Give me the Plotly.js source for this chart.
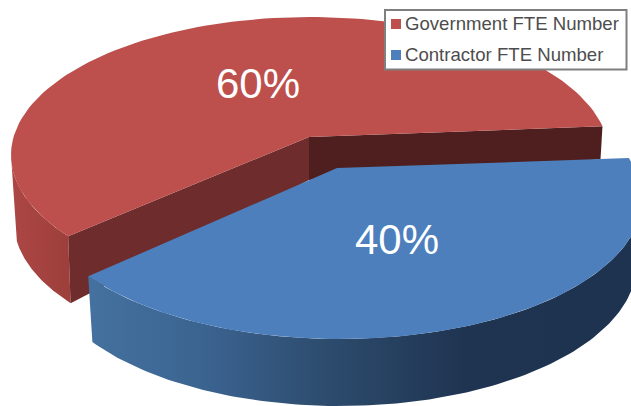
<!DOCTYPE html>
<html>
<head>
<meta charset="utf-8">
<script src="https://cdn.plot.ly/plotly-3.0.1.min.js"></script>
<style>html,body{margin:0;padding:0;background:#fff}#chart{width:631px;height:406px}</style>
</head>
<body>
<div id="chart"></div>
<script>
// Data
const sliceLabels = ["Government FTE Number", "Contractor FTE Number"];
const sliceValues = [60, 40];
const sliceColors = ["#BD504D", "#4D7FBC"];

// 3-D projection of the pie (drawn with scatter fills on hidden pixel-scaled axes)
const W = 631, H = 406;
const total = sliceValues.reduce((a, b) => a + b, 0);
const startAngle = 4.3;
const warp = t => t + 1.5 + 8.5 * Math.cos(t * Math.PI / 180);
const redGeom = {vx: 309, vy: 137, top: {cx: 310, cy: 155, a: 299, b: 138}, bot: {cx: 310, cy: 222, a: 296, b: 138}};
const blueGeom = {vx: 337, vy: 168, top: {cx: 340, cy: 199, a: 302, b: 140}, bot: {cx: 340, cy: 263, a: 297, b: 143}};
const pt = (e, deg) => [e.cx + e.a * Math.cos(deg * Math.PI / 180), e.cy - e.b * Math.sin(deg * Math.PI / 180)];
const arc = (e, d0, d1, n = 120) => {
  const out = [];
  for (let i = 0; i <= n; i++) out.push(pt(e, d0 + (d1 - d0) * i / n));
  return out;
};
const poly = (pts, fill, extra) => Object.assign({
  type: "scatter", mode: "lines", x: pts.map(p => p[0]), y: pts.map(p => p[1]),
  fill: "toself", fillcolor: fill, line: {width: 0, color: fill},
  hoverinfo: "skip", showlegend: false
}, extra || {});
const grad = (stops, x0, x1) => ({fillgradient: {type: "horizontal", colorscale: stops, start: x0, stop: x1}});

const redEnd = startAngle + sliceValues[0] / total * 360;
const blueEnd = redEnd + sliceValues[1] / total * 360;
const pR0 = warp(startAngle) - 2.3, pR1 = warp(redEnd) + 0.7;
const pB0 = warp(redEnd) - 1.8, pB1 = warp(blueEnd) + 2.7;

const rTop = redGeom.top, rBot = redGeom.bot, bTop = blueGeom.top, bBot = blueGeom.bot;
const rCornerR = pt(rTop, pR0), rCornerL = pt(rTop, pR1), rBotL = pt(rBot, pR1);
const rVertex = [redGeom.vx, redGeom.vy], rVertexB = [redGeom.vx, redGeom.vy + 43];
const rCornerRB = [rCornerR[0] - 2, rCornerR[1] + 33];

const traces = [
  // red outer wall
  poly(arc(rTop, 180, pR1).concat(arc(rBot, pR1, 188)), "#A5423F",
       grad([[0, "#AC4744"], [1, "#9C3E3B"]], 11, 75)),
  // red inner walls
  poly([rVertex, rCornerR, rCornerRB, rVertexB], "#4E1F1E"),
  poly([rVertex, rCornerL, rBotL, rVertexB], "#6F2C2C"),
  // red top
  poly([rVertex].concat(arc(rTop, pR0, pR1)), sliceColors[0]),
  // blue outer wall
  poly(arc(bTop, pB0, 372).concat(arc(bBot, 372, pB0)), "#2C4A6B",
       grad([[0, "#44719F"], [0.25, "#3B6390"], [0.5, "#2D4C6E"], [0.8, "#1F3451"], [1, "#1E3350"]], 89, 560)),
  // blue top
  poly([[blueGeom.vx, blueGeom.vy]].concat(arc(bTop, pB0, pB1)), sliceColors[1])
];

const pctText = sliceValues.map(v => Math.round(v / total * 100) + "%");
const pctPos = [[258, 83], [397, 239]];
const annotations = pctText.map((t, i) => ({
  x: pctPos[i][0], y: pctPos[i][1], xref: "x", yref: "y", text: t, showarrow: false,
  xanchor: "center", yanchor: "middle",
  font: {family: "Liberation Sans, Arial, sans-serif", size: 42, color: "#FFFFFF"}
}));
const legendRows = [24, 55];
sliceLabels.forEach((t, i) => annotations.push({
  x: 405, y: legendRows[i] - 0.5, xref: "x", yref: "y", text: t, showarrow: false,
  xanchor: "left", yanchor: "middle", borderpad: 0, xshift: -1,
  font: {family: "Liberation Sans, Arial, sans-serif", size: 18.6, color: "#4D4D4D"}
}));
const shapes = [
  {type: "rect", xref: "x", yref: "y", x0: 385, x1: 626.5, y0: 10, y1: 69.5,
   fillcolor: "#FFFFFF", line: {color: "#7F7F7F", width: 2}}
];
sliceColors.forEach((c, i) => shapes.push({
  type: "rect", xref: "x", yref: "y", x0: 391, x1: 401,
  y0: legendRows[i] - 5, y1: legendRows[i] + 5, fillcolor: c, line: {width: 0}
}));

const hiddenAxis = r => ({range: r, visible: false, fixedrange: true, showgrid: false, zeroline: false});
Plotly.newPlot("chart", traces, {
  width: W, height: H,
  margin: {l: 0, r: 0, t: 0, b: 0, pad: 0},
  paper_bgcolor: "#FFFFFF", plot_bgcolor: "#FFFFFF",
  xaxis: hiddenAxis([0, W]),
  yaxis: hiddenAxis([H, 0]),
  showlegend: false,
  annotations: annotations,
  shapes: shapes
}, {displayModeBar: false, staticPlot: true});
</script>
</body>
</html>
